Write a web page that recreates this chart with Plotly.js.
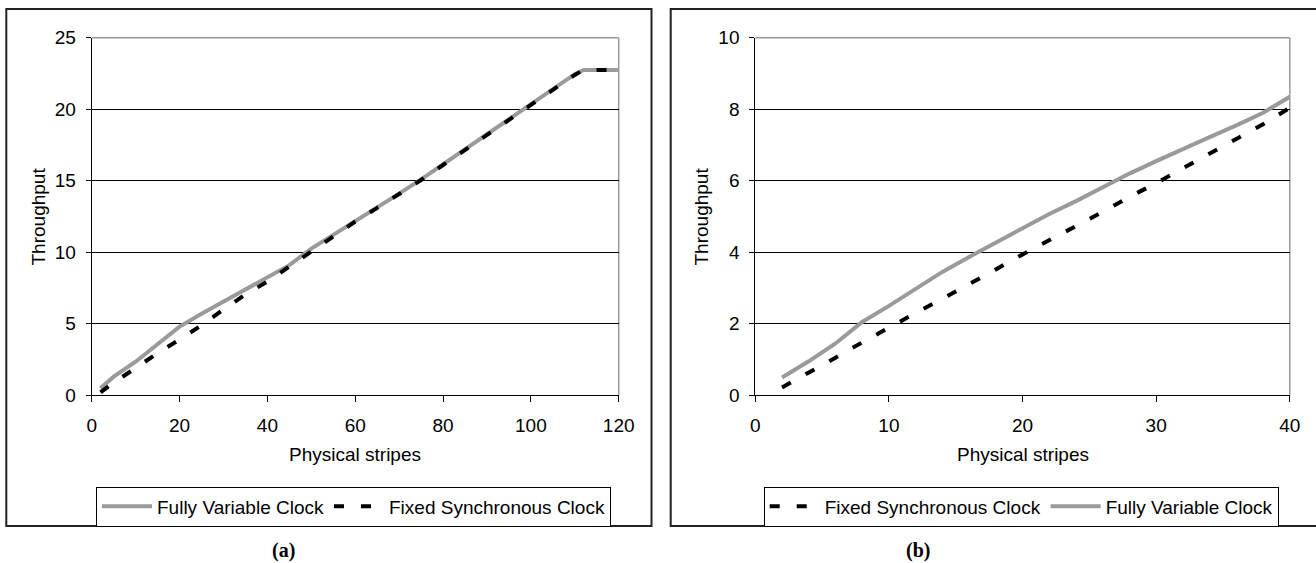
<!DOCTYPE html>
<html>
<head>
<meta charset="utf-8">
<script src="https://cdn.plot.ly/plotly-3.0.1.min.js"></script>
<style>html,body{margin:0;padding:0;background:#fff;}#chart{width:1316px;height:563px;}</style>
</head>
<body>
<div id="chart"></div>
<script>
// ---- data ----
const stripesA = [2,5,10,15,20,25,30,35,40,45,50,55,60,65,70,75,80,85,90,95,100,105,110,112,115,120];
const fullyVariableA = [0.5,1.3,2.35,3.6,4.8,5.7,6.55,7.4,8.2,9.1,10.25,11.2,12.2,13.15,14.1,15.1,16.15,17.2,18.25,19.3,20.4,21.4,22.45,22.75,22.75,22.75];
const fixedSyncA = [0.2,0.9,1.9,2.95,3.9,4.9,6.0,7.05,7.95,9.0,10.1,11.15,12.15,13.1,14.05,15.05,16.1,17.15,18.2,19.25,20.35,21.35,22.4,22.75,22.75,22.75];

const stripesB = [2,4,6,8,10,12,14,16,18,20,22,24,26,28,30,32,34,36,38,40];
const fullyVariableB = [0.5,0.95,1.45,2.05,2.5,2.97,3.45,3.87,4.27,4.68,5.07,5.43,5.82,6.2,6.55,6.9,7.22,7.55,7.9,8.35];
const fixedSyncB = [0.22,0.62,1.05,1.48,1.9,2.3,2.7,3.1,3.52,3.94,4.33,4.73,5.13,5.55,5.93,6.35,6.75,7.15,7.58,8.04];

const xTicksA = [0,20,40,60,80,100,120];
const yTicksA = [0,5,10,15,20,25];
const xTicksB = [0,10,20,30,40];
const yTicksB = [0,2,4,6,8,10];

const nameFull = "Fully Variable Clock";
const nameFixed = "Fixed Synchronous Clock";
const xTitle = "Physical stripes";
const yTitle = "Throughput";
// ---------------------------------------

const W = 1316, H = 563;
const px = v => v / W, py = v => 1 - v / H;
const FONT = "Liberation Sans, Arial, sans-serif";
const GRAY = "#9a9a9a";
const fullLine = {color: GRAY, width: 4};
const fixedLine = {color: "#000", width: 4, dash: "10px,17px"};

const traces = [
  {x: stripesA, y: fullyVariableA, name: nameFull, mode: "lines", line: fullLine, xaxis: "x", yaxis: "y", legend: "legend"},
  {x: stripesA, y: fixedSyncA, name: nameFixed, mode: "lines", line: fixedLine, xaxis: "x", yaxis: "y", legend: "legend"},
  {x: stripesB, y: fixedSyncB, name: nameFixed, mode: "lines", line: fixedLine, xaxis: "x2", yaxis: "y2", legend: "legend2"},
  {x: stripesB, y: fullyVariableB, name: nameFull, mode: "lines", line: fullLine, xaxis: "x2", yaxis: "y2", legend: "legend2"}
];

const yDom = [py(395.3), py(37.7)];
const xDomA = [px(91.75), px(618.7)];
const xDomB = [px(755.3), px(1289.8)];
const FS = 19;
const tickFont = {family: FONT, size: FS, color: "#000"};

function xAx(dom, range, tv, anchor) {
  return {domain: dom, range: range, tickvals: tv, ticktext: tv.map(String), anchor: anchor,
    showgrid: false, zeroline: false, showline: true, linecolor: "#000", linewidth: 1,
    ticks: "outside", ticklen: 6, tickcolor: "#000", tickwidth: 1, tickfont: tickFont,
    ticklabelstandoff: 7, fixedrange: true};
}
function yAx(dom, range, tv, anchor) {
  return {domain: dom, range: range, tickvals: tv, ticktext: tv.map(String), anchor: anchor,
    showgrid: true, gridcolor: "#000", gridwidth: 1, zeroline: false, showline: true, linecolor: "#000", linewidth: 1,
    ticks: "outside", ticklen: 5, tickcolor: "#000", tickwidth: 1, tickfont: tickFont,
    ticklabelstandoff: 6, fixedrange: true};
}
function insideTicks(base, overlay, anchor, isX) {
  return {domain: base.domain, range: base.range, tickvals: base.tickvals, overlaying: overlay, anchor: anchor,
    side: isX ? "bottom" : "left",
    showgrid: false, zeroline: false, showline: false, showticklabels: false,
    ticks: "inside", ticklen: 5, tickcolor: "#000", tickwidth: 1, fixedrange: true};
}

const xa = xAx(xDomA, [0,120], xTicksA, "y");
const ya = yAx(yDom, [0,25], yTicksA, "x");
const xb = xAx(xDomB, [0,40], xTicksB, "y2");
const yb = yAx(yDom, [0,10], yTicksB, "x2");

const boxLine = {color: "#222", width: 2};
const shapes = [
  {type: "rect", xref: "paper", yref: "paper", x0: px(6.3), x1: px(651.5), y0: py(526), y1: py(9), line: boxLine, layer: "below"},
  {type: "rect", xref: "paper", yref: "paper", x0: px(670.7), x1: px(1322), y0: py(526), y1: py(9), line: boxLine, layer: "below"},
  {type: "line", xref: "paper", yref: "paper", x0: xDomA[0], x1: xDomA[1], y0: yDom[1], y1: yDom[1], line: {color: GRAY, width: 1.5}, layer: "above"},
  {type: "line", xref: "paper", yref: "paper", x0: xDomA[1], x1: xDomA[1], y0: yDom[0], y1: yDom[1], line: {color: GRAY, width: 1.5}, layer: "below"},
  {type: "line", xref: "paper", yref: "paper", x0: xDomB[0], x1: xDomB[1], y0: yDom[1], y1: yDom[1], line: {color: GRAY, width: 1.5}, layer: "above"},
  {type: "line", xref: "paper", yref: "paper", x0: xDomB[1], x1: xDomB[1], y0: yDom[0], y1: yDom[1], line: {color: GRAY, width: 1.5}, layer: "below"}
];

const titleFont = {family: FONT, size: FS, color: "#000"};
const capFont = {family: "Liberation Serif, Times New Roman, serif", size: 20, color: "#000"};
const annotations = [
  {text: xTitle, xref: "paper", yref: "paper", x: (xDomA[0]+xDomA[1])/2, y: py(454), showarrow: false, font: titleFont, xanchor: "center", yanchor: "middle"},
  {text: xTitle, xref: "paper", yref: "paper", x: (xDomB[0]+xDomB[1])/2, y: py(454), showarrow: false, font: titleFont, xanchor: "center", yanchor: "middle"},
  {text: yTitle, xref: "paper", yref: "paper", x: px(38), y: (yDom[0]+yDom[1])/2, showarrow: false, font: titleFont, textangle: -90, xanchor: "center", yanchor: "middle"},
  {text: yTitle, xref: "paper", yref: "paper", x: px(701), y: (yDom[0]+yDom[1])/2, showarrow: false, font: titleFont, textangle: -90, xanchor: "center", yanchor: "middle"},
  {text: "<b>(a)</b>", xref: "paper", yref: "paper", x: px(283), y: py(550), showarrow: false, font: capFont, xanchor: "center", yanchor: "middle"},
  {text: "<b>(b)</b>", xref: "paper", yref: "paper", x: px(918), y: py(550), showarrow: false, font: capFont, xanchor: "center", yanchor: "middle"}
];

const legendBase = {orientation: "h", xanchor: "left", yanchor: "top", bgcolor: "#fff",
  bordercolor: "#000", borderwidth: 1, font: {family: FONT, size: FS, color: "#000"},
  traceorder: "normal", itemwidth: 50};

const layout = {
  width: W, height: H, margin: {l: 0, r: 0, t: 0, b: 0},
  paper_bgcolor: "#fff", plot_bgcolor: "rgba(0,0,0,0)",
  font: {family: FONT, color: "#000"},
  showlegend: true,
  legend: Object.assign({}, legendBase, {x: px(96), y: py(486.5)}),
  legend2: Object.assign({}, legendBase, {x: px(763.7), y: py(486.5)}),
  xaxis: xa, yaxis: ya, xaxis2: xb, yaxis2: yb,
  xaxis3: insideTicks(xa, "x", "y", true),
  xaxis4: insideTicks(xb, "x2", "y2", true),
  yaxis3: insideTicks(ya, "y", "x", false),
  yaxis4: insideTicks(yb, "y2", "x2", false),
  shapes: shapes, annotations: annotations
};

Plotly.newPlot("chart", traces, layout, {staticPlot: true, displayModeBar: false});
</script>
</body>
</html>
